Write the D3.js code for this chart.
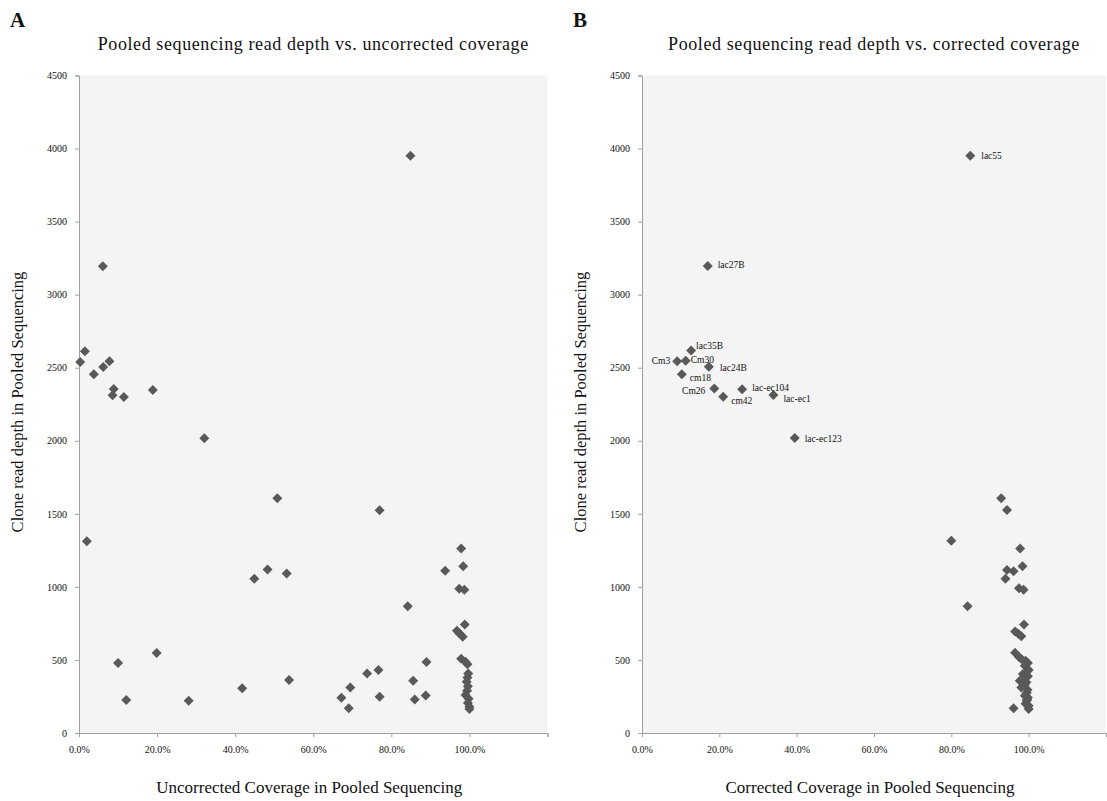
<!DOCTYPE html>
<html lang="en">
<head>
<meta charset="UTF-8">
<title>Pooled sequencing read depth vs coverage</title>
<script src="https://cdn.jsdelivr.net/npm/d3@7"></script>
<style>
  body { margin: 0; background: #fff; }
  svg text { font-family: "Liberation Serif", "DejaVu Serif", serif; fill: #111; -webkit-font-smoothing: antialiased; }
</style>
</head>
<body>
<svg id="chart" width="1107" height="801"></svg>
<script>
// panel A: uncorrected coverage (fraction) vs clone read depth
const uncorrCoverage = [0.849, 0.061, 0.015, 0.003, 0.078, 0.062, 0.038, 0.089, 0.086, 0.115, 0.189, 0.321,
  0.508, 0.770, 0.020, 0.979, 0.984, 0.938, 0.483, 0.532, 0.449, 0.974, 0.987, 0.842, 0.988, 0.968, 0.974,
  0.983, 0.199, 0.100, 0.890, 0.979, 0.990, 0.995, 0.767, 0.738, 0.538, 0.856, 0.695, 0.418, 0.672, 0.770,
  0.888, 0.860, 0.121, 0.281, 0.691, 0.997, 0.995, 0.993, 0.996, 0.994, 0.990, 0.998, 0.996, 1.000, 1.000];
const uncorrDepth = [3950, 3195, 2612, 2540, 2544, 2505, 2455, 2355, 2312, 2300, 2348, 2018,
  1607, 1525, 1313, 1263, 1142, 1110, 1119, 1092, 1055, 987, 980, 868, 743, 700, 682,
  659, 547, 479, 486, 508, 488, 470, 431, 408, 362, 358, 312, 306, 241, 248,
  257, 230, 226, 221, 169, 408, 380, 350, 320, 290, 260, 235, 205, 180, 165];

// panel B: corrected coverage, labelled clones first
const cloneNames = ["lac55", "lac27B", "lac35B", "Cm3", "Cm30", "lac24B", "cm18", "Cm26", "lac-ec104", "cm42", "lac-ec1", "lac-ec123"];
const corrCoverage = [0.849, 0.170, 0.127, 0.091, 0.113, 0.173, 0.103, 0.187, 0.259, 0.210, 0.340, 0.395,
  0.929, 0.944, 0.800, 0.978, 0.984, 0.944, 0.961, 0.940, 0.975, 0.987, 0.842, 0.988, 0.965, 0.973,
  0.981, 0.965, 0.975, 0.981, 0.992, 0.998, 0.990, 1.000, 0.985, 0.998, 0.977, 0.994, 0.990, 0.981,
  0.997, 0.995, 0.990, 0.998, 0.995, 1.000, 1.000, 0.961, 0.993, 0.988, 0.996, 0.992];
const corrDepth = [3951, 3197, 2618, 2545, 2548, 2507, 2456, 2358, 2352, 2302, 2313, 2019,
  1606, 1527, 1315, 1262, 1142, 1116, 1107, 1055, 991, 980, 868, 743, 695, 680,
  663, 549, 520, 506, 494, 479, 460, 431, 403, 388, 358, 347, 330, 312,
  296, 275, 255, 243, 220, 187, 165, 169, 410, 370, 230, 200];

const yTicks = [0, 500, 1000, 1500, 2000, 2500, 3000, 3500, 4000, 4500];
const xTicks = [0, 0.2, 0.4, 0.6, 0.8, 1.0, 1.2];

// where each clone label sits relative to its marker
const labelOffsets = {
  "lac55": [11, 0, "start"], "lac27B": [10, -1, "start"], "lac35B": [5, -5, "start"],
  "Cm3": [-7, 0, "end"], "Cm30": [5, -1, "start"], "lac24B": [11, 1, "start"],
  "cm18": [8, 4, "start"], "Cm26": [-9, 2, "end"], "lac-ec104": [10, -2, "start"],
  "cm42": [8, 4, "start"], "lac-ec1": [10, 4, "start"], "lac-ec123": [10, 1, "start"]
};

const svg = d3.select('#chart');
const diamond = d3.symbol().type(d3.symbolSquare).size(50);

function drawPanel(o) {
  const x = d3.scaleLinear().domain([0, 1.2]).range([o.left, o.right]);
  const y = d3.scaleLinear().domain([0, 4500]).range([733, 75.5]);
  const g = svg.append('g');

  g.append('rect')
    .attr('x', o.left).attr('y', y(4500))
    .attr('width', o.right - o.left).attr('height', y(0) - y(4500))
    .attr('fill', '#f4f4f4');

  const yAxis = g.append('g')
    .attr('transform', `translate(${o.left},0)`)
    .call(d3.axisLeft(y).tickValues(yTicks).tickSize(4).tickPadding(8).tickFormat(d3.format('d')));
  const xAxis = g.append('g')
    .attr('transform', `translate(0,${y(0)})`)
    .call(d3.axisBottom(x).tickValues(xTicks).tickSize(4).tickPadding(9)
      .tickFormat(d => d > 1.1 ? '' : d3.format('.1%')(d)));
  [yAxis, xAxis].forEach(a => {
    a.selectAll('path, line').attr('stroke', '#a0a0a0');
    a.selectAll('text').attr('font-size', 10).attr('font-family', '"Liberation Serif", serif').attr('fill', '#222');
  });

  g.selectAll('path.pt')
    .data(o.cov.map((c, i) => ({ c: c, d: o.depth[i] })))
    .enter()
    .append('path')
    .attr('class', 'pt')
    .attr('d', diamond)
    .attr('transform', d => `translate(${x(d.c)},${y(d.d)}) rotate(45)`)
    .attr('fill', '#595959');

  if (o.names) {
    g.selectAll('text.lbl')
      .data(o.names.map((n, i) => ({ n: n, c: o.cov[i], d: o.depth[i] })))
      .enter()
      .append('text')
      .attr('class', 'lbl')
      .attr('x', d => x(d.c) + labelOffsets[d.n][0])
      .attr('y', d => y(d.d) + labelOffsets[d.n][1])
      .attr('dy', '0.35em')
      .attr('text-anchor', d => labelOffsets[d.n][2])
      .attr('font-size', 9.5)
      .text(d => d.n);
  }

  const mid = (o.left + o.right) / 2;
  g.append('text')
    .attr('x', mid).attr('y', 50)
    .attr('text-anchor', 'middle').attr('font-size', 18)
    .attr('letter-spacing', 0.6)
    .text(o.title);
  g.append('text')
    .attr('x', mid - 4).attr('y', 793)
    .attr('text-anchor', 'middle').attr('font-size', 17)
    .text(o.xTitle);
  g.append('text')
    .attr('transform', `translate(${o.left - 56},402) rotate(-90)`)
    .attr('text-anchor', 'middle').attr('font-size', 16.5)
    .text('Clone read depth in Pooled Sequencing');
  g.append('text')
    .attr('x', o.left - 69).attr('y', 27)
    .attr('font-size', 21).attr('font-weight', 'bold')
    .text(o.letter);
}

drawPanel({
  left: 79, right: 547.5, letter: 'A',
  title: 'Pooled sequencing read depth vs. uncorrected coverage',
  xTitle: 'Uncorrected Coverage in Pooled Sequencing',
  cov: uncorrCoverage, depth: uncorrDepth
});
drawPanel({
  left: 642, right: 1106, letter: 'B',
  title: 'Pooled sequencing read depth vs. corrected coverage',
  xTitle: 'Corrected Coverage in Pooled Sequencing',
  cov: corrCoverage, depth: corrDepth, names: cloneNames
});
</script>
</body>
</html>
